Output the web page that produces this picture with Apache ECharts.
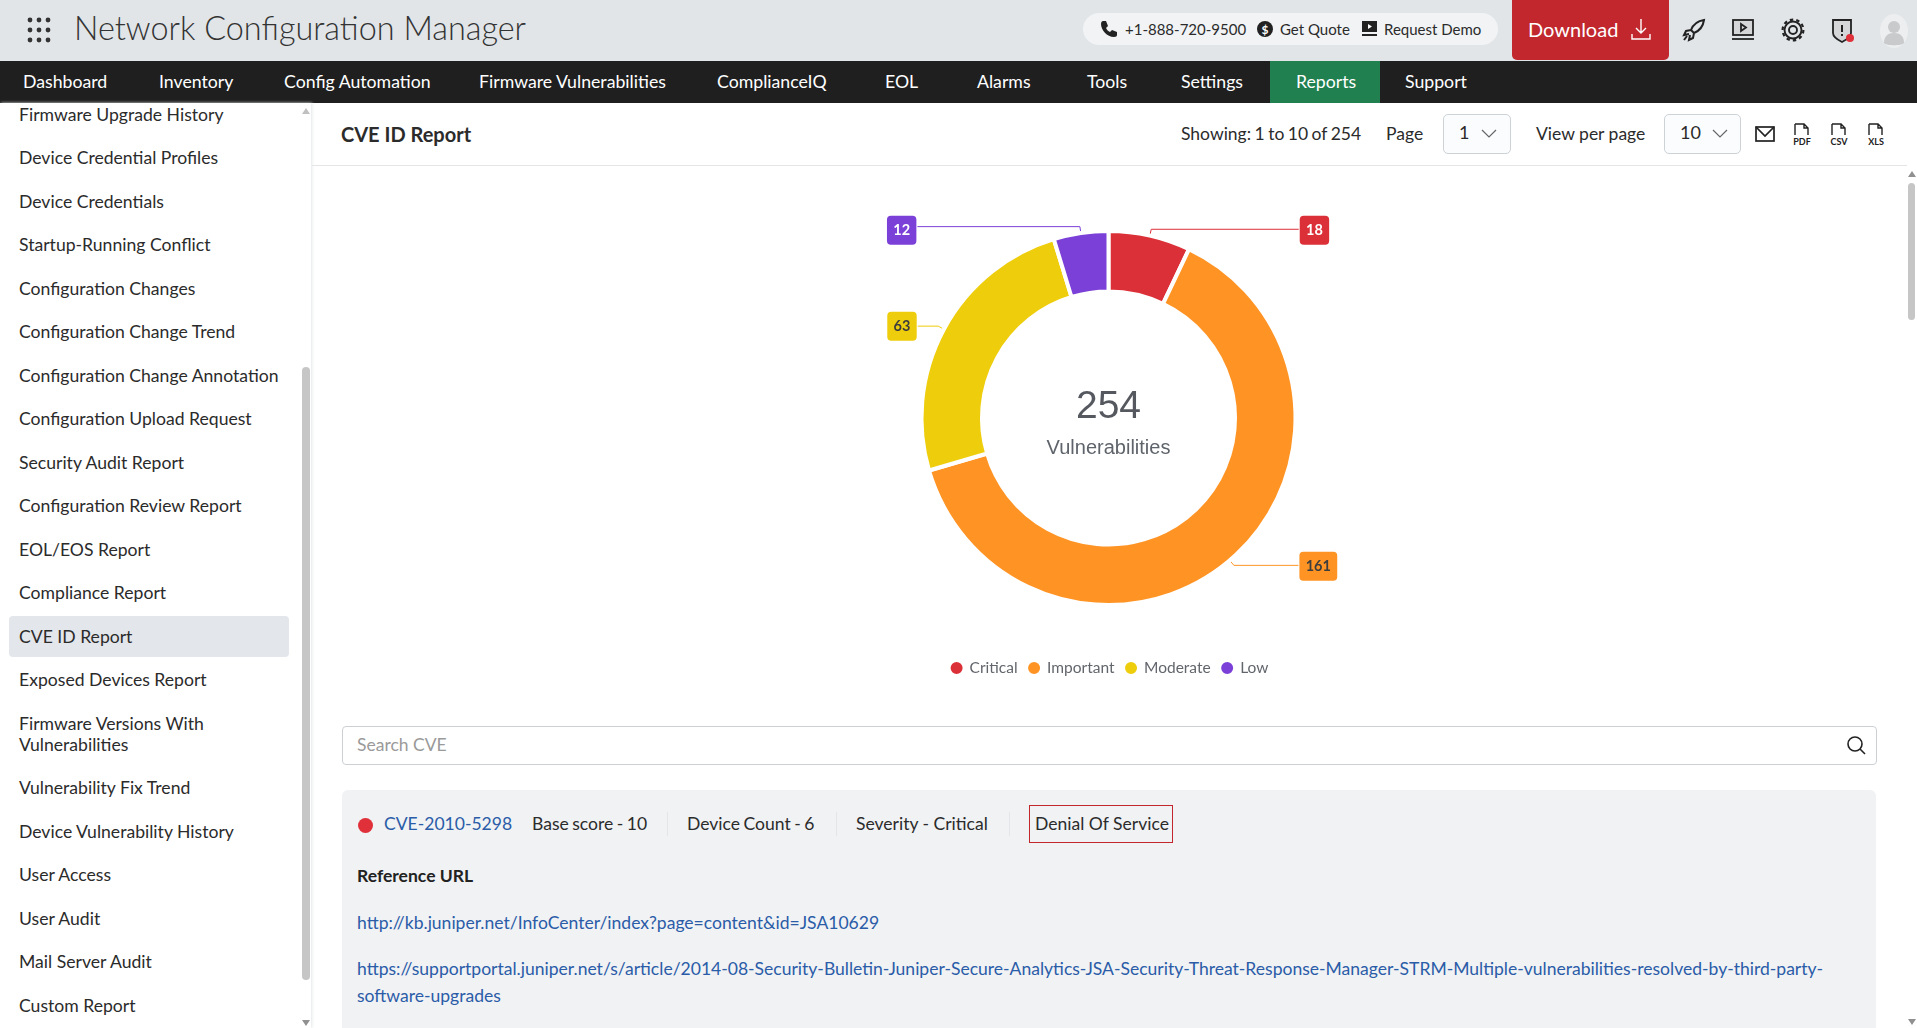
<!DOCTYPE html>
<html lang="en">
<head>
<meta charset="UTF-8">
<title>CVE ID Report</title>
<script src="https://cdn.jsdelivr.net/npm/echarts@6/dist/echarts.min.js"></script>
<style>
    html, body { margin: 0; padding: 0; width: 1917px; height: 1028px; overflow: hidden; background: #fff; font-family: Lato, sans-serif; color: #2b2b2b; }
    .abs { position: absolute; white-space: nowrap; }
    #top { position: absolute; left: 0; top: 0; width: 1917px; height: 61px; background: #e1e5e8; }
    #nav { position: absolute; left: 0; top: 61px; width: 1917px; height: 42px; background: #1f1f1f; }
    #nav span { position: absolute; top: 10px; color: #fff; font-size: 17.7px; line-height: 22px; white-space: nowrap; }
    #navActive { position: absolute; left: 1270px; top: 0; width: 110px; height: 42px; background: #208050; }
    #side { position: absolute; left: 0; top: 103px; width: 311px; height: 925px; background: #fff; box-shadow: 1px 0 3px #e4e6e8; overflow: hidden; }
    #side .item { position: absolute; left: 19px; font-size: 17.6px; line-height: 21px; color: #2b2b2b; white-space: nowrap; }
    #sideActive { position: absolute; left: 9px; top: 513px; width: 280px; height: 41px; background: #e3e6ea; border-radius: 4px; }
    #sideThumb { position: absolute; left: 302px; top: 264px; width: 8px; height: 613px; background: #c6c6c6; border-radius: 4px; }
    .sel { position: absolute; top: 114px; height: 38px; border: 1px solid #ccd2d6; border-radius: 5px; background: #fbfcfd; }
    #main { position: absolute; left: 311px; top: 166px; width: 1595px; height: 540px; }
    #search { position: absolute; left: 342px; top: 726px; width: 1533px; height: 37px; border: 1px solid #ccd0d4; border-radius: 4px; background: #fff; }
    #card { position: absolute; left: 342px; top: 790px; width: 1534px; height: 260px; background: #f1f2f4; border-radius: 6px; }
    .link { color: #2a5ca8; }
    .row { font-size: 17.55px; line-height: 22px; }
</style>
</head>
<body>
<div id="top"></div>
<svg class="abs" style="left:27px;top:17px" width="25" height="26" fill="#333">
    <circle cx="3" cy="3" r="2.4"/><circle cx="12" cy="3" r="2.4"/><circle cx="21" cy="3" r="2.4"/>
    <circle cx="3" cy="13" r="2.4"/><circle cx="12" cy="13" r="2.4"/><circle cx="21" cy="13" r="2.4"/>
    <circle cx="3" cy="23" r="2.4"/><circle cx="12" cy="23" r="2.4"/><circle cx="21" cy="23" r="2.4"/>
</svg>
<div class="abs" style="left:74px;top:7px;font-size:32.4px;line-height:42px;font-weight:300;color:#333">Network Configuration Manager</div>

<div class="abs" style="left:1083px;top:13px;width:415px;height:32px;background:#f1f3f5;border-radius:16px"></div>
<svg class="abs" style="left:1100px;top:20px" width="18" height="18" viewBox="0 0 18 18"><path d="M3 1l3 0 2 5-2 2c1 2 2 3 4 4l2-2 5 2 0 3c0 1-1 2-3 2C7 17 1 10 1 4c0-2 1-3 2-3z" fill="#222"/></svg>
<div class="abs" style="left:1125px;top:20px;font-size:15px;line-height:19px">+1-888-720-9500</div>
<svg class="abs" style="left:1256px;top:20px" width="18" height="18"><circle cx="9" cy="9" r="8" fill="#222"/><text x="9" y="13.5" text-anchor="middle" font-size="12" font-weight="700" font-family="Lato" fill="#fff">$</text></svg>
<div class="abs" style="left:1280px;top:20px;font-size:15px;line-height:19px">Get Quote</div>
<svg class="abs" style="left:1361px;top:20px" width="17" height="17"><rect x="1" y="1" width="15" height="11" fill="#222"/><rect x="1" y="14" width="15" height="2" fill="#222"/><path d="M7 4l4 2.5-4 2.5z" fill="#fff"/></svg>
<div class="abs" style="left:1384px;top:20px;font-size:15px;line-height:19px">Request Demo</div>

<div class="abs" style="left:1512px;top:0;width:157px;height:60px;background:#c1272d;border-radius:0 0 5px 5px"></div>
<div class="abs" style="left:1528px;top:17px;font-size:20px;line-height:25px;color:#fff">Download</div>
<svg class="abs" style="left:1630px;top:18px" width="22" height="24" fill="none" stroke="#fff" stroke-width="1.4"><path d="M11 1v14M6 10l5 5 5-5M2 16v5h18v-5"/></svg>

<svg class="abs" style="left:1682px;top:18px" width="24" height="24" fill="none" stroke="#222" stroke-width="2"><path d="M22 2c-7 1-11 5-13 10l3 3c5-2 9-6 10-13zM9 12l-5 1-2 4 5-1M12 15l-1 5-4 2 1-5M5 18l-3 4"/></svg>
<svg class="abs" style="left:1731px;top:18px" width="24" height="24" fill="none" stroke="#222" stroke-width="1.8"><rect x="2" y="2" width="20" height="15" fill="#d4d6d8"/><path d="M10 6l5 3.5-5 3.5z"/><path d="M1 21h22"/></svg>
<svg class="abs" style="left:1781px;top:18px" width="24" height="24" fill="none" stroke="#222" stroke-width="1.9"><circle cx="12" cy="12" r="4"/><circle cx="12" cy="12" r="8.5"/><circle cx="12" cy="12" r="10.4" stroke-width="2.2" stroke-dasharray="3.4 3.1"/></svg>
<svg class="abs" style="left:1831px;top:18px" width="24" height="26"><path d="M2 2h18v13c0 4-5 7-9 9-4-2-9-5-9-9z" fill="#d4d6d8" stroke="#222" stroke-width="1.8"/><path d="M11 7v7M11 16v2" stroke="#222" stroke-width="2"/><circle cx="19" cy="20" r="4" fill="#e0303a"/></svg>
<svg class="abs" style="left:1880px;top:14px" width="28" height="34"><ellipse cx="14" cy="17" rx="14" ry="17" fill="#eceeef"/><circle cx="14" cy="13" r="6" fill="#c8cacb"/><path d="M4 29c0-7 4-10 10-10s10 3 10 10c-2 3-18 3-20 0z" fill="#c8cacb"/></svg>

<div id="nav"><div id="navActive"></div></div>

<div id="side">
    <div id="sideActive"></div>
    <div id="sideThumb"></div>
    <svg class="abs" style="left:302px;top:4px" width="8" height="8"><path d="M4 1l4 6H0z" fill="#c0c0c0"/></svg>
    <svg class="abs" style="left:302px;top:916px" width="8" height="8"><path d="M4 7l4-6H0z" fill="#909090"/></svg>
</div>

<div class="abs" style="left:341px;top:121px;font-size:20px;line-height:26px;font-weight:700;color:#2b2b2b">CVE ID Report</div>
<div class="abs" style="left:312px;top:165px;width:1595px;height:1px;background:#e3e5e8"></div>
<div class="abs" style="left:1181px;top:123px;font-size:17.5px;line-height:22px;word-spacing:-1px">Showing: 1 to 10 of 254</div>
<div class="abs" style="left:1386px;top:123px;font-size:17.5px;line-height:22px">Page</div>
<div class="sel" style="left:1443px;width:66px"></div>
<div class="abs" style="left:1459px;top:121px;font-size:18px;line-height:22px">1</div>
<svg class="abs" style="left:1481px;top:129px" width="16" height="10" fill="none" stroke="#666" stroke-width="1.2"><path d="M1 1l7 7 7-7"/></svg>
<div class="abs" style="left:1536px;top:123px;font-size:17.5px;line-height:22px">View per page</div>
<div class="sel" style="left:1664px;width:75px"></div>
<div class="abs" style="left:1680px;top:121px;font-size:18px;line-height:22px">10</div>
<svg class="abs" style="left:1712px;top:129px" width="16" height="10" fill="none" stroke="#666" stroke-width="1.2"><path d="M1 1l7 7 7-7"/></svg>
<svg class="abs" style="left:1755px;top:126px" width="20" height="16" fill="none" stroke="#222" stroke-width="1.7"><rect x="1" y="1" width="18" height="14"/><path d="M1 1l9 9 9-9"/></svg>
<svg class="abs" style="left:1791px;top:123px" width="22" height="24"><path d="M4 1h9l4 4v7M4 1v11M13 1v4h4" fill="none" stroke="#222" stroke-width="1.4"/><text x="11" y="22" text-anchor="middle" font-size="9" font-weight="700" font-family="Lato" fill="#222">PDF</text></svg>
<svg class="abs" style="left:1828px;top:123px" width="22" height="24"><path d="M4 1h9l4 4v7M4 1v11M13 1v4h4" fill="none" stroke="#222" stroke-width="1.4"/><text x="11" y="22" text-anchor="middle" font-size="9" font-weight="700" font-family="Lato" fill="#222">CSV</text></svg>
<svg class="abs" style="left:1865px;top:123px" width="22" height="24"><path d="M4 1h9l4 4v7M4 1v11M13 1v4h4" fill="none" stroke="#222" stroke-width="1.4"/><text x="11" y="22" text-anchor="middle" font-size="9" font-weight="700" font-family="Lato" fill="#222">XLS</text></svg>

<div class="abs" style="left:1908px;top:183px;width:7px;height:137px;background:#c6c6c6;border-radius:4px"></div>
<svg class="abs" style="left:1908px;top:170px" width="8" height="8"><path d="M4 1l4 6H0z" fill="#909090"/></svg>
<svg class="abs" style="left:1908px;top:1018px" width="8" height="8"><path d="M4 7l4-6H0z" fill="#909090"/></svg>

<div id="main"></div>

<div id="search"></div>
<div class="abs" style="left:357px;top:734px;font-size:17.5px;line-height:22px;color:#9a9a9a">Search CVE</div>
<svg class="abs" style="left:1846px;top:735px" width="20" height="20" fill="none" stroke="#222" stroke-width="1.6"><circle cx="9" cy="9" r="7"/><path d="M14 14l5 5"/></svg>

<div id="card"></div>
<div class="abs" style="left:358px;top:818px;width:15px;height:15px;background:#e0303a;border-radius:50%"></div>
<div class="abs row link" style="left:384px;top:813px">CVE-2010-5298</div>
<div class="abs row" style="left:532px;top:813px;word-spacing:-1px">Base score - 10</div>
<div class="abs" style="left:667px;top:812px;width:1px;height:24px;background:#e4e5e8"></div>
<div class="abs row" style="left:687px;top:813px;word-spacing:-1px">Device Count - 6</div>
<div class="abs" style="left:836px;top:812px;width:1px;height:24px;background:#e4e5e8"></div>
<div class="abs row" style="left:856px;top:813px">Severity - Critical</div>
<div class="abs" style="left:1009px;top:812px;width:1px;height:24px;background:#e4e5e8"></div>
<div class="abs" style="left:1029px;top:805px;width:142px;height:36px;border:1px solid #c1272d"></div>
<div class="abs row" style="left:1035px;top:813px">Denial Of Service</div>
<div class="abs row" style="left:357px;top:865px;font-weight:700;color:#222">Reference URL</div>
<div class="abs row link" style="left:357px;top:912px">http://kb.juniper.net/InfoCenter/index?page=content&amp;id=JSA10629</div>
<div class="abs row link" style="left:357px;top:958px">https://supportportal.juniper.net/s/article/2014-08-Security-Bulletin-Juniper-Secure-Analytics-JSA-Security-Threat-Response-Manager-STRM-Multiple-vulnerabilities-resolved-by-third-party-</div>
<div class="abs row link" style="left:357px;top:985px">software-upgrades</div>

<script>
    // chart data
    let severities = ['Critical', 'Important', 'Moderate', 'Low'];
    let counts = [18, 161, 63, 12];
    let totalCount = 254;
    let centerText = 'Vulnerabilities';
    let sliceColors = ['#dc3038', '#ff9425', '#eecd0c', '#7b40d8'];
    let labelColors = ['#fff', '#3d3d3d', '#3d3d3d', '#fff'];
    let lineEnds = [147.5, 64.5, 20.5, 162.5];
    let labelDrop = [1, 1, 0, 3.5];

    // page chrome text
    let navItems = ['Dashboard', 'Inventory', 'Config Automation', 'Firmware Vulnerabilities', 'ComplianceIQ', 'EOL', 'Alarms', 'Tools', 'Settings', 'Reports', 'Support'];
    let navLeft = [23, 159, 284, 479, 717, 885, 977, 1087, 1181, 1296, 1405];
    let sideItems = ['Firmware Upgrade History', 'Device Credential Profiles', 'Device Credentials', 'Startup-Running Conflict', 'Configuration Changes', 'Configuration Change Trend', 'Configuration Change Annotation', 'Configuration Upload Request', 'Security Audit Report', 'Configuration Review Report', 'EOL/EOS Report', 'Compliance Report', 'CVE ID Report', 'Exposed Devices Report', 'Firmware Versions With', 'Vulnerabilities', 'Vulnerability Fix Trend', 'Device Vulnerability History', 'User Access', 'User Audit', 'Mail Server Audit', 'Custom Report'];
    let sideTop = [1, 44, 88, 131, 175, 218, 262, 305, 349, 392, 436, 479, 523, 566, 610, 631, 674, 718, 761, 805, 848, 892];

    let nav = document.getElementById('nav');
    navItems.forEach(function (t, i) {
        let s = document.createElement('span');
        s.textContent = t;
        s.style.left = navLeft[i] + 'px';
        nav.appendChild(s);
    });
    let side = document.getElementById('side');
    sideItems.forEach(function (t, i) {
        let d = document.createElement('div');
        d.className = 'item';
        d.textContent = t;
        d.style.top = sideTop[i] + 'px';
        side.appendChild(d);
    });

    let myChart = echarts.init(document.getElementById('main'));
    let option = {
        animation: false,
        title: {
            text: String(totalCount),
            subtext: centerText,
            left: '50%',
            top: 221.5,
            padding: 0,
            textAlign: 'center',
            itemGap: 12,
            textStyle: { fontFamily: 'Liberation Sans', fontSize: 39, fontWeight: 'normal', color: '#55595f' },
            subtextStyle: { fontFamily: 'Liberation Sans', fontSize: 20, color: '#5f646b' }
        },
        legend: {
            data: severities,
            left: 'center',
            top: 494,
            padding: 0,
            icon: 'circle',
            itemWidth: 14,
            itemHeight: 14,
            itemGap: 8.5,
            textStyle: { fontFamily: 'Lato', fontSize: 15.5, color: '#62666c', padding: [0, 0, 0, 1] }
        },
        series: [{
            type: 'pie',
            center: ['50%', 252],
            radius: [126.5, 187],
            startAngle: 90,
            clockwise: true,
            avoidLabelOverlap: false,
            itemStyle: { borderColor: '#fff', borderWidth: 4 },
            label: {
                fontFamily: 'Lato',
                fontSize: 14.5,
                fontWeight: 700,
                lineHeight: 29,
                padding: [0, 6.3],
                borderRadius: 4,
                distanceToLabelLine: 1
            },
            labelLine: { length: 6.5, lineStyle: { width: 1 } },
            data: severities.map(function (name, i) {
                return {
                    name: name,
                    value: counts[i],
                    itemStyle: { color: sliceColors[i] },
                    label: { formatter: String(counts[i]), color: labelColors[i], backgroundColor: sliceColors[i], offset: [0, labelDrop[i]] },
                    labelLine: { length2: lineEnds[i] }
                };
            })
        }]
    };
    myChart.setOption(option);
</script>
</body>
</html>
